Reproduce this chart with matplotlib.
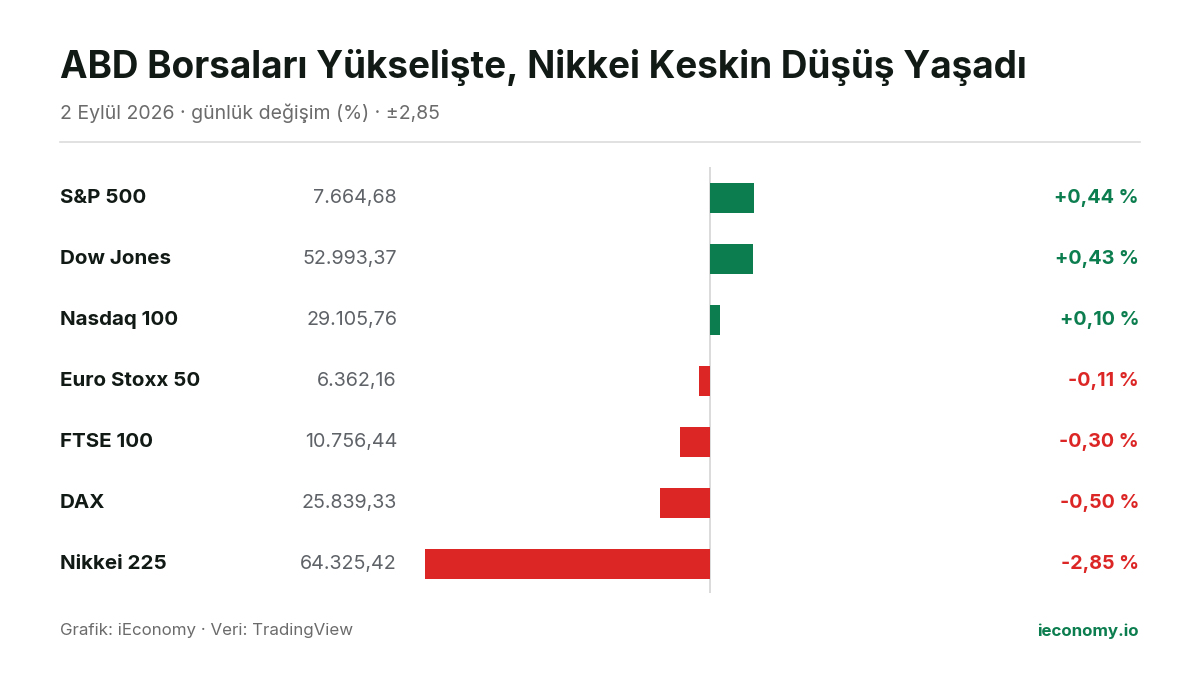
import matplotlib
matplotlib.use("Agg")
import matplotlib.pyplot as plt

names = ["S&P 500", "Dow Jones", "Nasdaq 100", "Euro Stoxx 50", "FTSE 100", "DAX", "Nikkei 225"]
levels = ["7.664,68", "52.993,37", "29.105,76", "6.362,16", "10.756,44", "25.839,33", "64.325,42"]
changes = [0.44, 0.43, 0.10, -0.11, -0.30, -0.50, -2.85]
change_labels = ["+0,44 %", "+0,43 %", "+0,10 %", "-0,11 %", "-0,30 %", "-0,50 %", "-2,85 %"]

GREEN = "#0b7d4e"
RED = "#dc2626"
W, H = 1200, 675
plt.rcParams['font.family'] = ['Inter', 'DejaVu Sans']
fig = plt.figure(figsize=(12, 6.75), dpi=100)
fig.patch.set_facecolor("white")

def fx(px): return px / W
def fy(py): return 1 - py / H

ax = fig.add_axes([fx(425), fy(593), fx(1140) - fx(425), (593 - 167) / H])
ax.set_xlim(-2.85, 4.3)
ax.set_ylim(6 + 29 / 61, -31 / 61)
ax.axis("off")
ys = list(range(len(names)))
colors = [GREEN if c >= 0 else RED for c in changes]
ax.barh(ys, changes, height=30 / 61, color=colors, zorder=2)
ax.axvline(0, color="#d4d4d4", lw=1.2, zorder=1)

for i in ys:
    py = 198 + 61 * i
    fig.text(fx(60), fy(py), names[i], fontsize=14.8, fontweight="bold", color="#121a16", va="center", ha="left")
    fig.text(fx(397), fy(py), levels[i], fontsize=14.2, color="#5f6368", va="center", ha="right")
    fig.text(fx(1139), fy(py), change_labels[i], fontsize=14.2, fontweight="bold", color=colors[i], va="center", ha="right")

fig.text(fx(60), fy(68), "ABD Borsaları Yükselişte, Nikkei Keskin Düşüş Yaşadı", fontsize=26.6, fontweight="bold", color="#121a16", va="center", ha="left")
fig.text(fx(60), fy(113), "2 Eylül 2026 · günlük değişim (%) · ±2,85", fontsize=14, color="#6b6b6b", va="center", ha="left")
fig.add_artist(plt.Line2D([fx(60), fx(1140)], [fy(142), fy(142)], color="#dcdcdc", lw=1.2))
fig.text(fx(60), fy(631), "Grafik: iEconomy · Veri: TradingView", fontsize=12.2, color="#6b6b6b", va="center", ha="left")
fig.text(fx(1139), fy(631), "ieconomy.io", fontsize=12.2, fontweight="bold", color=GREEN, va="center", ha="right")

fig.savefig("out.png", dpi=100)
